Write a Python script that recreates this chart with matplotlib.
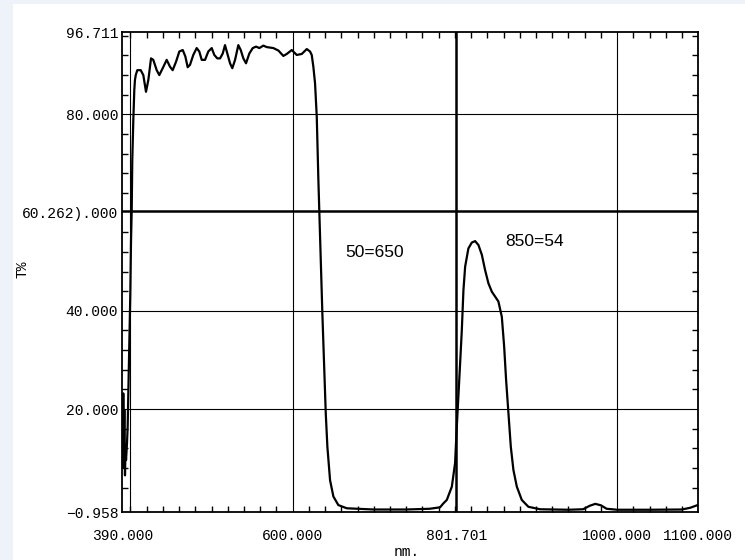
import numpy as np
import matplotlib
matplotlib.use('Agg')
import matplotlib.pyplot as plt
from matplotlib.patches import Rectangle
from matplotlib.ticker import MultipleLocator, FixedLocator

# Spectrum (nm, T%)
wavelength = [390.0, 390.6, 391.2, 391.8, 392.5, 393.3, 394.0, 394.6, 395.8, 396.6,
              397.4, 398.6, 399.9, 400.7, 401.6, 402.3, 403.6, 404.8, 405.6, 406.6,
              408.5, 412.7, 415.9, 419.2, 422.1, 425.4, 428.2, 432.4, 435.6, 439.8,
              444.7, 448.8, 452.1, 456.2, 460.3, 464.5, 467.7, 470.6, 473.5, 477.5,
              481.7, 484.9, 487.9, 492.0, 496.0, 500.2, 503.4, 507.1, 510.5, 513.8,
              516.6, 519.5, 522.8, 525.6, 529.0, 533.0, 536.0, 539.2, 542.5, 546.6,
              550.8, 554.9, 558.9, 563.9, 568.0, 576.2, 582.4, 588.5, 592.7, 598.9,
              605.0, 611.2, 617.4, 621.4, 623.5, 625.5, 627.6, 629.7, 631.7, 632.9,
              634.6, 636.6, 638.7, 640.8, 642.8, 646.1, 650.2, 656.3, 666.7, 700.0,
              740.0, 769.0, 781.7, 785.8, 790.0, 796.2, 800.2, 802.3, 804.3, 806.4,
              808.5, 810.5, 812.6, 816.6, 820.8, 824.9, 829.0, 833.2, 837.2, 841.3,
              845.5, 849.6, 853.6, 857.8, 860.7, 863.1, 866.0, 868.9, 872.1, 876.3,
              882.4, 890.6, 905.0, 940.0, 958.0, 966.0, 973.0, 980.0, 987.0, 1000.0,
              1040.0, 1079.7, 1090.0, 1100.0]
transmission = [21.0, 8.0, 23.2, 10.0, 19.8, 6.5, 12.0, 9.6, 13.1, 16.4,
                23.2, 33.5, 43.6, 53.8, 60.5, 70.7, 79.0, 85.0, 87.0, 88.0,
                89.0, 89.0, 88.0, 84.6, 87.0, 91.4, 91.1, 89.0, 88.0, 89.4,
                91.1, 89.7, 89.0, 90.7, 92.8, 93.1, 91.8, 89.6, 90.1, 92.1,
                93.5, 92.8, 91.1, 91.1, 92.8, 93.5, 92.1, 91.4, 91.4, 92.4,
                94.1, 92.4, 90.4, 89.4, 91.1, 94.1, 93.1, 91.4, 90.4, 92.4,
                93.5, 93.8, 93.5, 94.0, 93.7, 93.5, 93.0, 91.9, 92.3, 93.1,
                92.1, 92.3, 93.3, 92.8, 92.1, 89.7, 86.3, 79.5, 66.6, 59.9,
                49.7, 39.5, 29.3, 19.1, 12.3, 5.5, 2.2, 0.45, -0.2, -0.45,
                -0.45, -0.3, 0.0, 0.8, 1.5, 4.2, 9.0, 16.4, 22.5, 29.3,
                36.1, 44.2, 49.0, 52.7, 53.9, 54.2, 53.4, 51.4, 48.3, 45.6,
                43.9, 42.9, 41.9, 38.8, 32.7, 25.9, 19.1, 12.3, 7.6, 4.2,
                1.5, 0.1, -0.4, -0.5, -0.4, 0.3, 0.7, 0.4, -0.3, -0.5,
                -0.5, -0.45, -0.1, 0.5]

x_ticks = [390, 600, 801.701, 1000, 1100]
x_labels = ['390.000', '600.000', '801.701', '1000.000', '1100.000']
y_ticks = [-0.958, 20, 40, 60, 80, 96.711]
# the 60 label is shown overprinted by the cursor value on the instrument screen
y_labels = ['\u22120.958', '20.000', '40.000', '60.262).000', '80.000', '96.711']
x_grid = [400, 600, 1000]
y_grid = [20, 40, 80]
cursor_x = 801.701
cursor_y = 60.262

W, H = 745, 560
mono = ['Liberation Mono', 'DejaVu Sans Mono']
fs = 10.5

fig = plt.figure(figsize=(W / 100, H / 100), dpi=100, facecolor='#EEF3FA')
fig.add_artist(Rectangle((13 / W, 0), 1 - 13 / W, 1 - 3.7 / H, transform=fig.transFigure,
                         facecolor='white', edgecolor='none', zorder=-1))

ax = fig.add_axes([122.3 / W, 1 - 512 / H, (698.3 - 122.3) / W, (512 - 32.3) / H])
ax.plot(wavelength, transmission, color='black', lw=1.6, zorder=3, solid_joinstyle='round')

for v in x_grid:
    ax.axvline(v, color='black', lw=0.8, zorder=1)
for h in y_grid:
    ax.axhline(h, color='black', lw=0.8, zorder=1)
ax.axvline(cursor_x, color='black', lw=1.8, zorder=2)
ax.axhline(cursor_y, color='black', lw=1.8, zorder=2)

ax.set_xlim(390, 1100)
ax.set_ylim(-0.958, 96.711)
ax.set_xticks(x_ticks)
ax.set_xticklabels(x_labels, family=mono, fontsize=fs)
ax.set_yticks(y_ticks)
ax.set_yticklabels(y_labels, family=mono, fontsize=fs)
ax.xaxis.set_minor_locator(MultipleLocator(20))
ax.yaxis.set_minor_locator(FixedLocator(np.arange(4, 97, 4)))
ax.tick_params(which='major', length=0)
ax.tick_params(axis='x', which='major', pad=12)
ax.tick_params(axis='y', which='major', pad=3)
ax.tick_params(which='minor', direction='in', length=4, width=1,
               top=True, right=True, bottom=True, left=True)
for s in ax.spines.values():
    s.set_linewidth(1.3)

ax.text(664.6, 51.8, '50=650', ha='left', va='center', fontsize=12.5, family='Liberation Sans')
ax.text(861.9, 54.1, '850=54', ha='left', va='center', fontsize=12.5, family='Liberation Sans')

fig.text(22.5 / W, 1 - 269 / H, 'T%', rotation=90, ha='center', va='center',
         family=mono, fontsize=fs)
fig.text(407 / W, 1 - 552 / H, 'nm.', ha='center', va='center', family=mono, fontsize=fs)

fig.savefig('out.png', dpi=100, facecolor=fig.get_facecolor())
